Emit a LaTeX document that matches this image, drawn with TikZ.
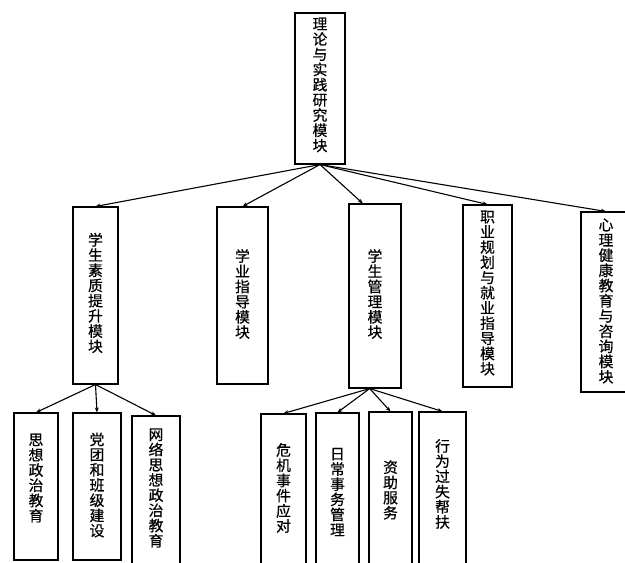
\documentclass[tikz,border=0pt]{standalone}
\usepackage{fontspec}
\newfontfamily\cjk[FakeBold=0.6]{Noto Sans CJK SC}
\usetikzlibrary{arrows.meta,calc}
\tikzset{
  box/.style={draw, line width=1.1pt, inner sep=0pt, minimum width=#1},
  vtext/.style={align=center, inner sep=0pt, font=\cjk\fontsize{14.8}{15.2}\selectfont},
  arr/.style={line width=1.1pt, -{Stealth[length=5pt,width=4pt]}},
}
\begin{document}
\begin{tikzpicture}[x=1pt,y=-1pt]
\useasboundingbox (0,0) rectangle (625,563);
\clip (0,0) rectangle (625,563);
% level 1
\node[box=50pt, minimum height=151pt] (top) at (320,88.5) {};
\node[vtext] (ttop) at (320,85) {理\\论\\与\\实\\践\\研\\究\\模\\块};
% level 2
\node[box=45pt, minimum height=177pt] (b1) at (95.5,295.5) {};
\node[vtext] (tb1) at (95.5,293) {学\\生\\素\\质\\提\\升\\模\\块};
\node[box=51pt, minimum height=177pt] (b2) at (242.5,295.5) {};
\node[vtext] (tb2) at (242.5,294) {学\\业\\指\\导\\模\\块};
\node[box=52pt, minimum height=184pt] (b3) at (375,296) {};
\node[vtext] (tb3) at (375,294) {学\\生\\管\\理\\模\\块};
\node[box=49pt, minimum height=182pt] (b4) at (487.5,296) {};
\node[vtext] (tb4) at (487.5,293) {职\\业\\规\\划\\与\\就\\业\\指\\导\\模\\块};
\node[box=50pt, minimum height=180pt] (b5) at (606,302) {};
\node[vtext] (tb5) at (606,301) {心\\理\\健\\康\\教\\育\\与\\咨\\询\\模\\块};
% level 3 under b1
\node[box=44pt, minimum height=147pt] (c1) at (36,486.5) {};
\node[vtext] (tc1) at (36,478) {思\\想\\政\\治\\教\\育};
\node[box=48pt, minimum height=147pt] (c2) at (97,486.5) {};
\node[vtext] (tc2) at (97,485) {党\\团\\和\\班\\级\\建\\设};
\node[box=48pt, minimum height=164pt] (c3) at (156,498) {};
\node[vtext] (tc3) at (156,488) {网\\络\\思\\想\\政\\治\\教\\育};
% level 3 under b3
\node[box=45pt, minimum height=166pt] (d1) at (283.5,497) {};
\node[vtext] (td1) at (283.5,488) {危\\机\\事\\件\\应\\对};
\node[box=43pt, minimum height=167pt] (d2) at (337.5,496.5) {};
\node[vtext] (td2) at (337.5,492) {日\\常\\事\\务\\管\\理};
\node[box=43pt, minimum height=168pt] (d3) at (390.5,496) {};
\node[vtext] (td3) at (390.5,490) {资\\助\\服\\务};
\node[box=47pt, minimum height=168pt] (d4) at (442.5,496) {};
\node[vtext] (td4) at (442.5,484) {行\\为\\过\\失\\帮\\扶};
% connectors
\coordinate (o3) at ($(b3.south west)!0.4!(b3.south east)$);
\coordinate (e3) at ($(b3.north west)!0.27!(b3.north east)$);
\draw[arr] (top.south) -- (b1.north);
\draw[arr] (top.south) -- (b2.north);
\draw[arr] (top.south) -- (e3);
\draw[arr] (top.south) -- (b4.north);
\draw[arr] (top.south) -- (b5.north);
\draw[arr] (b1.south) -- (c1.north);
\draw[arr] (b1.south) -- (c2.north);
\draw[arr] (b1.south) -- (c3.north);
\draw[arr] (o3) -- (d1.north);
\draw[arr] (o3) -- (d2.north);
\draw[arr] (o3) -- (d3.north);
\draw[arr] (o3) -- (d4.north);
\end{tikzpicture}
\end{document}
